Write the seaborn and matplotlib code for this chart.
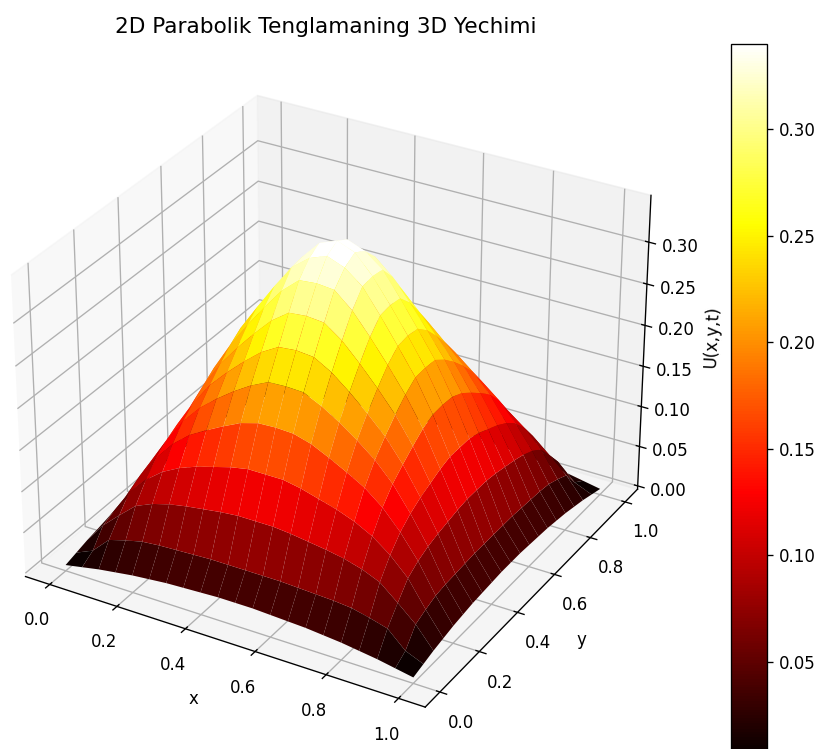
import numpy as np
import matplotlib
matplotlib.use("Agg")
import matplotlib.pyplot as plt
import seaborn as sns

title = "2D Parabolik Tenglamaning 3D Yechimi"
x_label = "x"
y_label = "y"
z_label = "U(x,y,t)"
z_ticks = [0.0, 0.05, 0.10, 0.15, 0.20, 0.25, 0.30]
x_values = [0.0, 0.05, 0.1, 0.15, 0.2, 0.25, 0.3, 0.35, 0.4, 0.45, 0.5,
            0.55, 0.6, 0.65, 0.7, 0.75, 0.8, 0.85, 0.9, 0.95, 1.0]
y_values = list(x_values)
u_values = [
    [.003,.007,.011,.014,.017,.019,.021,.022,.023,.024,.024,.024,.023,.022,.021,.019,.017,.014,.011,.007,.003],
    [.007,.016,.036,.042,.047,.049,.050,.051,.052,.052,.052,.052,.052,.051,.050,.049,.047,.042,.036,.016,.007],
    [.011,.036,.055,.073,.082,.088,.092,.095,.098,.100,.100,.100,.098,.095,.092,.088,.082,.073,.055,.036,.011],
    [.014,.042,.073,.094,.110,.121,.129,.135,.141,.145,.145,.145,.141,.135,.129,.121,.110,.094,.073,.042,.014],
    [.017,.047,.082,.110,.133,.150,.162,.173,.183,.189,.190,.189,.183,.173,.162,.150,.133,.110,.082,.047,.017],
    [.019,.049,.088,.121,.150,.172,.189,.204,.217,.227,.228,.227,.217,.204,.189,.172,.150,.121,.088,.049,.019],
    [.021,.050,.092,.129,.162,.189,.210,.229,.246,.258,.260,.258,.246,.229,.210,.189,.162,.129,.092,.050,.021],
    [.022,.051,.095,.135,.173,.204,.229,.252,.273,.288,.290,.288,.273,.252,.229,.204,.173,.135,.095,.051,.022],
    [.023,.052,.098,.141,.183,.217,.246,.273,.298,.316,.318,.316,.298,.273,.246,.217,.183,.141,.098,.052,.023],
    [.024,.052,.100,.145,.189,.227,.258,.288,.316,.332,.340,.332,.316,.288,.258,.227,.189,.145,.100,.052,.024],
    [.024,.052,.100,.145,.190,.228,.260,.290,.318,.340,.348,.340,.318,.290,.260,.228,.190,.145,.100,.052,.024],
    [.024,.052,.100,.145,.189,.227,.258,.288,.316,.332,.340,.332,.316,.288,.258,.227,.189,.145,.100,.052,.024],
    [.023,.052,.098,.141,.183,.217,.246,.273,.298,.316,.318,.316,.298,.273,.246,.217,.183,.141,.098,.052,.023],
    [.022,.051,.095,.135,.173,.204,.229,.252,.273,.288,.290,.288,.273,.252,.229,.204,.173,.135,.095,.051,.022],
    [.021,.050,.092,.129,.162,.189,.210,.229,.246,.258,.260,.258,.246,.229,.210,.189,.162,.129,.092,.050,.021],
    [.019,.049,.088,.121,.150,.172,.189,.204,.217,.227,.228,.227,.217,.204,.189,.172,.150,.121,.088,.049,.019],
    [.017,.047,.082,.110,.133,.150,.162,.173,.183,.189,.190,.189,.183,.173,.162,.150,.133,.110,.082,.047,.017],
    [.014,.042,.073,.094,.110,.121,.129,.135,.141,.145,.145,.145,.141,.135,.129,.121,.110,.094,.073,.042,.014],
    [.011,.036,.055,.073,.082,.088,.092,.095,.098,.100,.100,.100,.098,.095,.092,.088,.082,.073,.055,.036,.011],
    [.007,.016,.036,.042,.047,.049,.050,.051,.052,.052,.052,.052,.052,.051,.050,.049,.047,.042,.036,.016,.007],
    [.003,.007,.011,.014,.017,.019,.021,.022,.023,.024,.024,.024,.023,.022,.021,.019,.017,.014,.011,.007,.003],
]

W, H, DPI = 823, 749, 120
fig = plt.figure(figsize=(W / DPI, H / DPI), dpi=DPI)
ax = fig.add_axes([-0.037, -0.004, 0.87, 0.95], projection="3d")

X, Y = np.meshgrid(x_values, y_values)
U = np.array(u_values)
cmap = sns.color_palette("hot", as_cmap=True)
surf = ax.plot_surface(X, Y, U, cmap=cmap, rcount=50, ccount=50)
ax.set_xlabel(x_label)
ax.set_ylabel(y_label)
ax.set_zlabel(z_label)
ax.set_zticks(z_ticks)

fig.text(326 / W, 1 - 27 / H, title, ha="center", va="center", fontsize=13)

cax = fig.add_axes([731 / W, -2 / H, 36 / W, 707 / H])
fig.colorbar(surf, cax=cax)

fig.savefig("out.png", dpi=DPI)
